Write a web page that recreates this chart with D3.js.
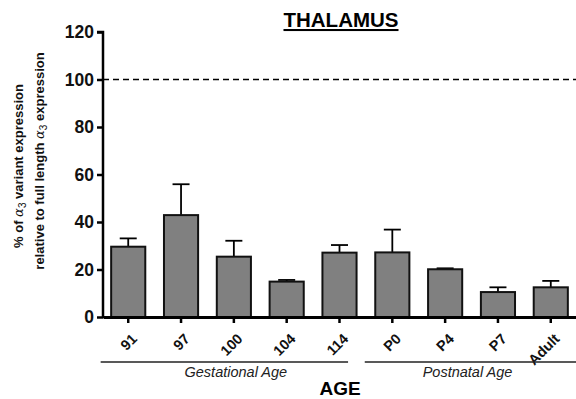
<!DOCTYPE html>
<html>
<head>
<meta charset="utf-8">
<script src="https://cdn.jsdelivr.net/npm/d3@7"></script>
<style>
  body { margin: 0; background: #fff; }
  svg { font-family: Arial, "Liberation Sans", Helvetica, sans-serif; }
</style>
</head>
<body>
<svg id="chart" width="576" height="399"></svg>
<script>
const ages = ['91', '97', '100', '104', '114', 'P0', 'P4', 'P7', 'Adult'];
const means = [29.6, 42.9, 25.4, 14.9, 27.1, 27.2, 20.1, 10.5, 12.5];
const errTops = [33.1, 55.9, 32.1, 15.6, 30.3, 36.8, 20.5, 12.5, 15.2];
const yTicks = [0, 20, 40, 60, 80, 100, 120];
const refLine = 100;
const groups = [
  { label: 'Gestational Age', from: '91', to: '114' },
  { label: 'Postnatal Age', from: 'P0', to: 'Adult' }
];

const svg = d3.select('#chart');
const margin = { top: 32, right: 0, bottom: 82, left: 103 };
const width = 576 - margin.left - margin.right;
const height = 399 - margin.top - margin.bottom;
const g = svg.append('g').attr('transform', `translate(${margin.left},${margin.top})`);

const x = d3.scaleBand().domain(ages).range([0, width]).paddingInner(0.335).paddingOuter(0.145);
const y = d3.scaleLinear().domain([0, 120]).range([height, 0]);

// reference line at 100%
g.append('line')
  .attr('x1', 0).attr('x2', width)
  .attr('y1', y(refLine)).attr('y2', y(refLine))
  .attr('stroke', '#000')
  .attr('stroke-width', 1.6)
  .attr('stroke-dasharray', '6,4');

// error bars (upper only)
const errs = g.append('g').attr('class', 'errs');
ages.forEach((a, i) => {
  const cx = x(a) + x.bandwidth() / 2;
  errs.append('line')
    .attr('x1', cx).attr('x2', cx)
    .attr('y1', y(means[i])).attr('y2', y(errTops[i]))
    .attr('stroke', '#000').attr('stroke-width', 1.8);
  errs.append('line')
    .attr('x1', cx - 8.5).attr('x2', cx + 8.5)
    .attr('y1', y(errTops[i])).attr('y2', y(errTops[i]))
    .attr('stroke', '#000').attr('stroke-width', 1.8);
});

// bars
g.selectAll('.bar')
  .data(ages)
  .enter()
  .append('rect')
  .attr('class', 'bar')
  .attr('x', d => x(d) + 0.5)
  .attr('y', (d, i) => y(means[i]))
  .attr('width', x.bandwidth() - 1)
  .attr('height', (d, i) => height - y(means[i]))
  .attr('fill', '#808080')
  .attr('stroke', '#111')
  .attr('stroke-width', 2);

// y axis
const yAxis = g.append('g')
  .call(d3.axisLeft(y).tickValues(yTicks).tickSize(6).tickPadding(3));
yAxis.select('.domain').attr('stroke-width', 2.5).attr('d', `M0,${height + 1}V0H-6`);
yAxis.selectAll('.tick line').attr('stroke-width', 2.5);
yAxis.selectAll('.tick text')
  .attr('font-size', 17.5).attr('font-weight', 'bold').attr('fill', '#111')
  .attr('font-family', 'Arial, "Liberation Sans", sans-serif');

// x axis
const xAxis = g.append('g')
  .attr('transform', `translate(0,${height})`)
  .call(d3.axisBottom(x).tickSize(6).tickSizeOuter(0).tickPadding(2));
xAxis.select('.domain').attr('stroke-width', 3);
xAxis.selectAll('.tick line').attr('stroke-width', 2.5);
xAxis.selectAll('.tick text')
  .attr('font-size', 14.5).attr('font-weight', 'bold').attr('fill', '#111')
  .attr('font-family', 'Arial, "Liberation Sans", sans-serif')
  .attr('text-anchor', 'end')
  .attr('dy', '0.2em')
  .attr('transform', 'translate(2,15) rotate(-45)');

// group brackets
groups.forEach(gr => {
  const x0 = x(gr.from) - 10;
  const x1 = gr.to === 'Adult' ? width : x(gr.to) + x.bandwidth() - 9;
  g.append('line')
    .attr('x1', x0).attr('x2', x1)
    .attr('y1', height + 45).attr('y2', height + 45)
    .attr('stroke', '#222').attr('stroke-width', 1.3);
  g.append('text')
    .attr('x', (x(gr.from) + x(gr.to) + x.bandwidth()) / 2 + (gr.to === 'Adult' ? -4 : 2))
    .attr('y', height + 60)
    .attr('text-anchor', 'middle')
    .attr('font-size', 14.5)
    .attr('font-style', 'italic')
    .attr('fill', '#222')
    .text(gr.label);
});

// x title
svg.append('text')
  .attr('x', 340).attr('y', 395)
  .attr('text-anchor', 'middle')
  .attr('font-size', 19).attr('font-weight', 'bold')
  .text('AGE');

// chart title
svg.append('text')
  .attr('x', 341).attr('y', 27)
  .attr('text-anchor', 'middle')
  .attr('font-size', 20.5).attr('font-weight', 'bold')
  .attr('text-decoration', 'underline')
  .text('THALAMUS');

// y title (two lines)
const yLab = svg.append('text')
  .attr('transform', 'translate(23,166) rotate(-90)')
  .attr('text-anchor', 'middle')
  .attr('font-size', 13).attr('font-weight', 'bold')
  .attr('fill', '#111');
const line1 = yLab.append('tspan').attr('x', 0).attr('y', 0);
line1.append('tspan').text('% of ');
line1.append('tspan').attr('font-weight', 'normal').attr('font-family', '"DejaVu Serif", serif').attr('font-style', 'italic').text('α');
line1.append('tspan').attr('font-weight', 'normal').attr('font-size', 10).attr('dy', 3).text('3');
line1.append('tspan').attr('dy', -3).text(' variant expression');
const line2 = yLab.append('tspan').attr('x', 5).attr('y', 21);
line2.append('tspan').text('relative to full length ');
line2.append('tspan').attr('font-weight', 'normal').attr('font-family', '"DejaVu Serif", serif').attr('font-style', 'italic').text('α');
line2.append('tspan').attr('font-weight', 'normal').attr('font-size', 10).attr('dy', 3).text('3');
line2.append('tspan').attr('dy', -3).text(' expression');
</script>
</body>
</html>
